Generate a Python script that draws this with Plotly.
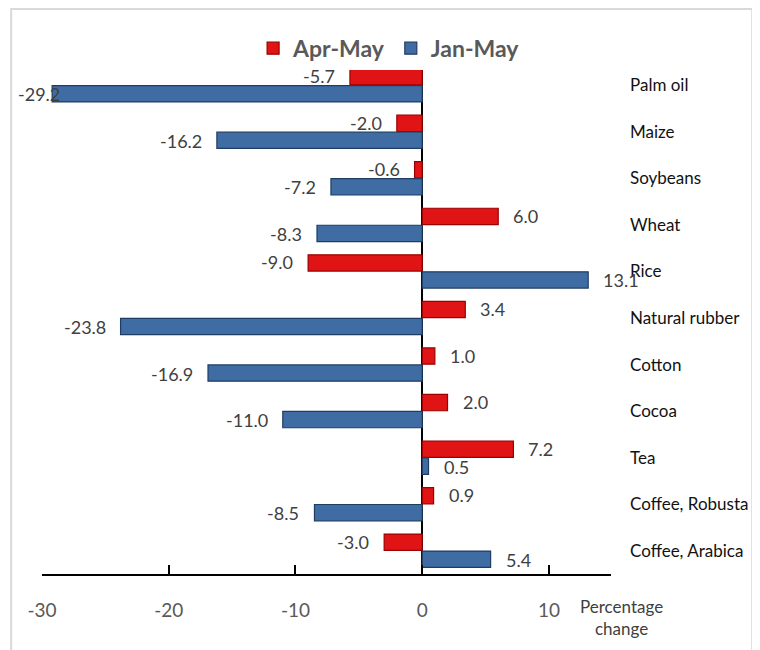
import plotly.graph_objects as go

categories = ["Palm oil", "Maize", "Soybeans", "Wheat", "Rice", "Natural rubber",
              "Cotton", "Cocoa", "Tea", "Coffee, Robusta", "Coffee, Arabica"]
apr_may = [-5.7, -2.0, -0.6, 6.0, -9.0, 3.4, 1.0, 2.0, 7.2, 0.9, -3.0]
jan_may = [-29.2, -16.2, -7.2, -8.3, 13.1, -23.8, -16.9, -11.0, 0.5, -8.5, 5.4]
x_ticks = [-30, -20, -10, 0, 10]

FONT = "Lato, Open Sans, sans-serif"
X_RANGE = [-30, 14.9]
# figure is drawn inside the page body (8px default body margin)
W, H = 752, 642
ML, MR, MT, MB = 34, 146, 54, 76
plot_w = W - ML - MR
scale = plot_w / (X_RANGE[1] - X_RANGE[0])

fig = go.Figure()
fig.add_trace(go.Bar(
    y=categories, x=apr_may, orientation="h", name="Apr-May",
    marker=dict(color="#e01414", line=dict(color="#9c0000", width=1.2)),
))
fig.add_trace(go.Bar(
    y=categories, x=jan_may, orientation="h", name="Jan-May",
    marker=dict(color="#3f6da3", line=dict(color="#1f3d63", width=1.2)),
))

annotations = []
for series, shift in ((apr_may, 9), (jan_may, -9)):
    for cat, v in zip(categories, series):
        txt = f"{v:.1f}"
        if v >= 0:
            xa, xs = "left", 13
        else:
            xa, xs = "right", -13
            px_end = ML + (v - X_RANGE[0]) * scale
            w_est = len(txt) * 9
            if px_end + xs - w_est < 9:
                xs = 9 + w_est - px_end
        annotations.append(dict(
            x=v, y=cat, xref="x", yref="y", text=txt, showarrow=False,
            xanchor=xa, xshift=xs, yshift=shift,
            font=dict(family=FONT, size=18, color="#404040"),
        ))
annotations.append(dict(
    x=1.019, y=-0.084, xref="paper", yref="paper", text="Percentage<br>change",
    showarrow=False, xanchor="center", yanchor="middle", align="center",
    font=dict(family=FONT, size=17, color="#404040"),
))

plot_h = H - MT - MB
shapes = [dict(type="rect", xref="paper", yref="paper",
               x0=(3 - ML) / plot_w, x1=(748 - ML) / plot_w,
               y0=-0.3, y1=(H - MB - 1) / plot_h,
               line=dict(color="#d9d9d9", width=2), fillcolor="rgba(0,0,0,0)", layer="below")]

fig.update_layout(
    width=W, height=H,
    margin=dict(l=ML, r=MR, t=MT, b=MB),
    paper_bgcolor="white", plot_bgcolor="white",
    barmode="group", bargap=0.27, bargroupgap=0.04,
    font=dict(family=FONT),
    legend=dict(orientation="h", x=0.61, y=1.027, xanchor="center", yanchor="middle",
                font=dict(family=FONT, size=23, color="#595959", weight="bold"),
                itemwidth=30, tracegroupgap=0),
    annotations=annotations,
    shapes=shapes,
    xaxis=dict(range=X_RANGE, tickvals=x_ticks, ticktext=[str(t) for t in x_ticks],
               showgrid=False, zeroline=True, zerolinecolor="black", zerolinewidth=2,
               showline=True, linecolor="black", linewidth=2,
               ticks="inside", ticklen=9, tickwidth=1.5, tickcolor="black",
               ticklabelstandoff=18,
               tickfont=dict(family=FONT, size=19, color="#595959")),
    yaxis=dict(autorange="reversed", side="right", showgrid=False, showline=False,
               ticks="", ticklabelstandoff=18,
               tickfont=dict(family=FONT, size=17, color="#111111")),
)

fig.write_html("out.html")
